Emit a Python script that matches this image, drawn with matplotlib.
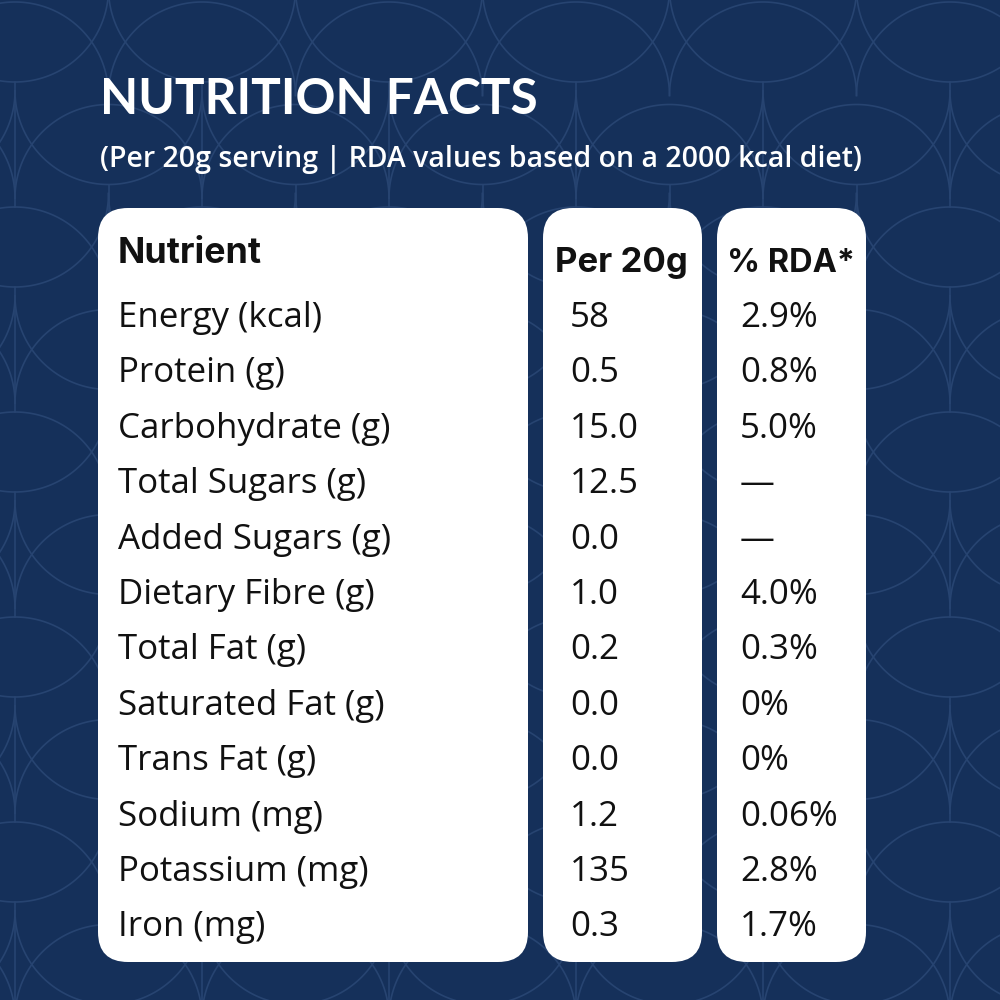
import matplotlib
matplotlib.use("Agg")
import matplotlib.pyplot as plt
import matplotlib.patches as patches
import numpy as np

# ── data ──
nutrients = [
    "Energy (kcal)", "Protein (g)", "Carbohydrate (g)", "Total Sugars (g)",
    "Added Sugars (g)", "Dietary Fibre (g)", "Total Fat (g)",
    "Saturated Fat (g)", "Trans Fat (g)", "Sodium (mg)",
    "Potassium (mg)", "Iron (mg)",
]
per_20g = ["58", "0.5", "15.0", "12.5", "0.0", "1.0", "0.2", "0.0", "0.0",
           "1.2", "135", "0.3"]
rda_pct = ["2.9%", "0.8%", "5.0%", "—", "—", "4.0%", "0.3%", "0%", "0%",
           "0.06%", "2.8%", "1.7%"]

title = "NUTRITION FACTS"
subtitle = "(Per 20g serving | RDA values based on a 2000 kcal diet)"
col_heads = ["Nutrient", "Per 20g", "% RDA*"]

# ── colours / fonts ──
NAVY = "#15305A"
PATTERN = "#274471"
CARD = "#FFFFFF"
INK = "#111111"
BODY_FONT = "Open Sans"
TITLE_FONT = "Lato"
HEAD_FONT = "Inter"

fig = plt.figure(figsize=(10, 10), dpi=100, facecolor=NAVY)
ax = fig.add_axes([0, 0, 1, 1])
ax.set_xlim(0, 1000)
ax.set_ylim(1000, 0)
ax.axis("off")
ax.set_facecolor(NAVY)

# ── background pattern: lenses made of half circles, spines between ──
step_x, period, r, lens_h = 93.5, 205.0, 93.5, 40.0
d = r - lens_h
half = np.linspace(0, np.pi, 120)
for m in range(-2, 13):
    cx = 15 + step_x * m
    shift = 0 if m % 2 == 0 else period / 2
    for k in range(-2, 6):
        cy = 452 + period * k + shift
        # upper half of lower circle -> lens top edge
        ax.plot(cx + r * np.cos(half), cy + d - r * np.sin(half),
                color=PATTERN, lw=1.2, zorder=1)
        # lower half of upper circle -> lens bottom edge
        ax.plot(cx + r * np.cos(half), cy - d + r * np.sin(half),
                color=PATTERN, lw=1.2, zorder=1)
        # spine down to next lens
        ax.plot([cx, cx], [cy + lens_h, cy + period - lens_h],
                color=PATTERN, lw=1.2, zorder=1)

# ── cards ──
cards = [(98, 528), (543, 702), (717, 866)]
for x0, x1 in cards:
    ax.add_patch(patches.FancyBboxPatch(
        (x0, 208), x1 - x0, 754,
        boxstyle="round,pad=0,rounding_size=30",
        facecolor=CARD, edgecolor="none", zorder=3))

fig.canvas.draw()
renderer = fig.canvas.get_renderer()


def fit(txt, width):
    bb = txt.get_window_extent(renderer)
    txt.set_fontsize(txt.get_fontsize() * width / bb.width)
    return txt.get_fontsize()


# ── header texts ──
t_title = ax.text(100, 114, title, color="white", fontsize=30,
                  fontweight="bold", family=TITLE_FONT, va="baseline",
                  ha="left", zorder=5)
fit(t_title, 438)
t_sub = ax.text(100, 167, subtitle, color="white", fontsize=16,
                fontweight="semibold", family=BODY_FONT, va="baseline",
                ha="left", zorder=5)
fit(t_sub, 765)

h_nut = ax.text(118, 263, col_heads[0], color=INK, fontsize=20,
                fontweight="bold", family=HEAD_FONT, va="baseline", zorder=5)
fit(h_nut, 144)
h_per = ax.text(555, 272, col_heads[1], color=INK, fontsize=20,
                fontweight="bold", family=HEAD_FONT, va="baseline", zorder=5)
fit(h_per, 133)
h_rda = ax.text(727, 272, col_heads[2], color=INK, fontsize=20,
                fontweight="bold", family=HEAD_FONT, va="baseline", zorder=5)
fit(h_rda, 128)

# body size from the longest nutrient label
probe = ax.text(118, 0, "Carbohydrate (g)", fontsize=20, family=BODY_FONT)
body_size = fit(probe, 272)
probe.remove()

row_gap = 55.4
for i, (name, val, pct) in enumerate(zip(nutrients, per_20g, rda_pct)):
    y = 327 + i * row_gap
    ax.text(118, y, name, color=INK, fontsize=body_size, family=BODY_FONT,
            va="baseline", ha="left", zorder=5)
    ax.text(570, y, val, color=INK, fontsize=body_size, family=BODY_FONT,
            va="baseline", ha="left", zorder=5)
    ax.text(740, y, pct, color=INK, fontsize=body_size, family=BODY_FONT,
            va="baseline", ha="left", zorder=5)

fig.savefig("out.png", dpi=100, facecolor=NAVY)
